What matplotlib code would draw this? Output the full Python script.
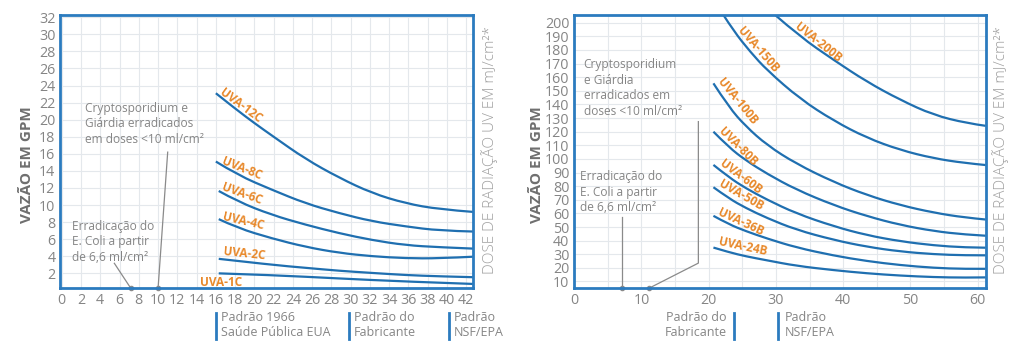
import matplotlib
matplotlib.use('Agg')
import matplotlib.pyplot as plt
from matplotlib.path import Path
from matplotlib.patches import PathPatch
from matplotlib.transforms import blended_transform_factory

plt.rcParams['font.family'] = ['Open Sans', 'DejaVu Sans']

BLUE = '#2b7bbf'
CURVE = '#1f6fb0'
ORANGE = '#e8892b'
GRAY = '#858585'
GRID = '#e4e8ec'

# left chart (series C)
c_12_x = [16.0, 18.0, 20.0, 22.0, 25.3, 28.8, 32.2, 35.7, 39.2, 42.7]
c_12_y = [23.1, 21.3, 19.6, 18.0, 15.4, 13.2, 11.4, 10.2, 9.5, 9.2]
c_8_x = [16.0, 18.3, 21.8, 25.3, 28.8, 32.2, 35.7, 39.2, 42.7]
c_8_y = [15.1, 13.5, 11.8, 10.2, 9.05, 8.1, 7.5, 7.0, 6.9]
c_6_x = [16.3, 18.3, 21.8, 25.3, 28.8, 32.2, 35.7, 39.2, 42.7]
c_6_y = [11.65, 10.4, 8.85, 7.7, 6.7, 5.9, 5.3, 5.06, 4.9]
c_4_x = [16.3, 18.3, 21.8, 25.3, 28.8, 32.2, 35.7, 39.2, 42.7]
c_4_y = [8.35, 7.3, 6.1, 5.1, 4.4, 4.0, 3.77, 3.75, 3.95]
c_2_x = [16.3, 21.8, 25.3, 28.8, 32.2, 35.7, 39.2, 42.7]
c_2_y = [3.7, 3.0, 2.65, 2.3, 2.05, 1.8, 1.65, 1.55]
c_1_x = [16.3, 21.8, 28.8, 35.7, 42.7]
c_1_y = [2.0, 1.8, 1.4, 1.04, 0.76]

left_series = [
    ('UVA-12C', c_12_x, c_12_y),
    ('UVA-8C', c_8_x, c_8_y),
    ('UVA-6C', c_6_x, c_6_y),
    ('UVA-4C', c_4_x, c_4_y),
    ('UVA-2C', c_2_x, c_2_y),
    ('UVA-1C', c_1_x, c_1_y),
]
# label anchor (x, y, rotation)
left_labels = {
    'UVA-12C': (18.6, 21.6, -36.5),
    'UVA-8C': (18.7, 14.3, -22),
    'UVA-6C': (18.7, 11.3, -20),
    'UVA-4C': (18.8, 8.15, -13),
    'UVA-2C': (19.0, 4.3, -6),
    'UVA-1C': (16.5, 0.98, 0),
}

# right chart (series B)
b_x = [20.7, 23.0, 25.5, 28.7, 33.0, 38.6, 43.5, 48.5, 53.5, 58.0, 61.2]
b_200_x = [29.9, 33.6, 38.6, 43.5, 48.5, 53.4, 58.4, 61.2]
b_200_y = [205.6, 189.7, 172.6, 156.7, 143.3, 132.3, 126.2, 124.3]
b_150_x = [22.2, 23.7, 26.2, 28.7, 33.6, 38.6, 43.5, 48.5, 53.4, 58.0, 61.2]
b_150_y = [205.6, 194.0, 178.5, 165.0, 144.0, 128.0, 115.5, 106.5, 100.5, 97.0, 95.5]
b_100_y = [155.5, 138.0, 124.0, 110.0, 96.5, 83.0, 73.5, 66.0, 60.5, 57.0, 55.5]
b_80_y = [120.0, 108.5, 99.0, 89.0, 77.5, 66.0, 58.0, 51.5, 47.0, 44.5, 43.6]
b_60_y = [95.6, 86.5, 78.5, 70.0, 60.0, 50.5, 44.0, 39.5, 36.5, 35.0, 34.8]
b_50_y = [79.2, 71.0, 64.0, 56.5, 48.0, 40.5, 35.5, 32.0, 30.0, 29.2, 29.2]
b_36_y = [58.2, 52.0, 47.0, 41.5, 35.0, 29.0, 25.0, 22.0, 20.0, 19.2, 19.3]
b_24_y = [34.9, 31.5, 28.5, 25.5, 21.5, 18.3, 16.0, 14.3, 13.2, 12.8, 13.0]

right_series = [
    ('UVA-200B', b_200_x, b_200_y),
    ('UVA-150B', b_150_x, b_150_y),
    ('UVA-100B', b_x, b_100_y),
    ('UVA-80B', b_x, b_80_y),
    ('UVA-60B', b_x, b_60_y),
    ('UVA-50B', b_x, b_50_y),
    ('UVA-36B', b_x, b_36_y),
    ('UVA-24B', b_x, b_24_y),
]
right_labels = {
    'UVA-200B': (36.2, 185.7, -38.5),
    'UVA-150B': (27.3, 180.5, -49),
    'UVA-100B': (24.3, 142.0, -51),
    'UVA-80B': (24.3, 108.8, -45),
    'UVA-60B': (24.7, 87.0, -37),
    'UVA-50B': (24.8, 73.0, -30),
    'UVA-36B': (24.7, 53.5, -25),
    'UVA-24B': (25.0, 35.7, -12),
}

left_xticks = list(range(0, 43, 2))
left_yticks = list(range(2, 33, 2))
right_xticks = list(range(0, 61, 10))
right_yticks = list(range(10, 201, 10))

dose_label = 'DOSE DE RADIAÇÃO UV EM mJ/cm²*'
flow_label = 'VAZÃO EM GPM'


def smooth_curve(ax, xs, ys):
    # quadratic b-spline path, the read points act as control points
    pts = list(zip(xs, ys))
    verts = [pts[0]]
    codes = [Path.MOVETO]
    for i in range(1, len(pts) - 1):
        if i < len(pts) - 2:
            end = ((pts[i][0] + pts[i + 1][0]) / 2, (pts[i][1] + pts[i + 1][1]) / 2)
        else:
            end = pts[-1]
        verts += [pts[i], end]
        codes += [Path.CURVE3, Path.CURVE3]
    if len(pts) == 2:
        verts.append(pts[1])
        codes.append(Path.LINETO)
    patch = PathPatch(Path(verts, codes), fill=False, edgecolor=CURVE, lw=1.6,
                      capstyle='butt')
    ax.add_patch(patch)


def style_axes(ax):
    for s in ax.spines.values():
        s.set_color(BLUE)
        s.set_linewidth(2)
        s.set_zorder(5)
    ax.tick_params(length=0, labelsize=10.3, labelcolor=GRAY, pad=3.5)
    ax.grid(True, color=GRID, lw=0.8)
    ax.set_axisbelow(True)


def mark_line(ax, xs, ys):
    ax.plot(xs, ys, color='#8a8a8a', lw=0.9, clip_on=False, zorder=4)
    ax.plot(xs[-1], ys[-1], 'o', color='#8a8a8a', ms=3, clip_on=False, zorder=4)


def standard(ax, x, text, side='left', gap=0.5):
    tr = blended_transform_factory(ax.transData, ax.transAxes)
    ax.plot([x, x], [-0.092, -0.185], color=BLUE, lw=2, transform=tr, clip_on=False)
    if side == 'left':
        ax.text(x + gap, -0.135, text, transform=tr, ha='left', va='center',
                fontsize=9, color=GRAY, linespacing=1.2)
    else:
        ax.text(x - gap, -0.135, text, transform=tr, ha='right', va='center',
                fontsize=9, color=GRAY, linespacing=1.2)


fig = plt.figure(figsize=(10.24, 3.5), dpi=100)

# ---- left chart
ax1 = fig.add_axes([0.0589, 0.1763, 0.4030, 0.7817])
style_axes(ax1)
ax1.set_xlim(-0.15, 42.7)
ax1.set_ylim(0.25, 32.3)
ax1.set_xticks(left_xticks)
ax1.set_yticks(left_yticks)
for name, xs, ys in left_series:
    smooth_curve(ax1, xs, ys)
    lx, ly, rot = left_labels[name]
    ax1.text(lx, ly, name, color=ORANGE, fontsize=8.5, fontweight='bold',
             rotation=rot, rotation_mode='anchor', ha='center', va='center')

ax1.text(2.4, 19.5, 'Cryptosporidium e\nGiárdia erradicados\nem doses <10 ml/cm²',
         fontsize=8.6, color=GRAY, va='center', ha='left', linespacing=1.25)
mark_line(ax1, [11.0, 10.0], [16.2, 0.25])
ax1.text(1.1, 5.7, 'Erradicação do\nE. Coli a partir\nde 6,6 ml/cm²',
         fontsize=8.6, color=GRAY, va='center', ha='left', linespacing=1.25)
mark_line(ax1, [5.46, 7.17], [3.18, 0.25])

standard(ax1, 16.0, 'Padrão 1966\nSaúde Pública EUA')
standard(ax1, 29.8, 'Padrão do\nFabricante')
standard(ax1, 40.2, 'Padrão\nNSF/EPA')

# ---- right chart
ax2 = fig.add_axes([0.5608, 0.1763, 0.4018, 0.7817])
style_axes(ax2)
ax2.set_xlim(0, 61.2)
ax2.set_ylim(5, 205.9)
ax2.set_xticks(right_xticks)
ax2.set_yticks(right_yticks)
ax2.set_xticks(list(range(5, 61, 10)), minor=True)
ax2.grid(True, which='minor', axis='x', color=GRID, lw=0.8)
ax2.tick_params(which='minor', length=0)
for name, xs, ys in right_series:
    smooth_curve(ax2, xs, ys)
    lx, ly, rot = right_labels[name]
    ax2.text(lx, ly, name, color=ORANGE, fontsize=8.5, fontweight='bold',
             rotation=rot, rotation_mode='anchor', ha='center', va='center')

ax2.text(1.4, 152, 'Cryptosporidium\ne Giárdia\nerradicados em\ndoses <10 ml/cm²',
         fontsize=8.6, color=GRAY, va='center', ha='left', linespacing=1.25)
mark_line(ax2, [18.46, 18.46, 11.1], [127.4, 23.5, 5])
ax2.text(0.85, 75.6, 'Erradicação do\nE. Coli a partir\nde 6,6 ml/cm²',
         fontsize=8.6, color=GRAY, va='center', ha='left', linespacing=1.25)
mark_line(ax2, [7.08, 7.08], [57.7, 5])

standard(ax2, 23.7, 'Padrão do\nFabricante', side='right', gap=1.0)
standard(ax2, 30.3, 'Padrão\nNSF/EPA', gap=1.0)

# axis titles
for xf in (27 / 1024, 537 / 1024):
    fig.text(xf, 1 - 165 / 350, flow_label, rotation=90, ha='center', va='center',
             fontsize=11, fontweight='bold', color='#6f6f6f')
for xf in (490 / 1024, 1001 / 1024):
    fig.text(xf, 1 - 150 / 350, dose_label, rotation=90, ha='center', va='center',
             fontsize=11, fontweight='light', color='#a0a0a0')

fig.savefig('out.png', dpi=100, facecolor='white')
